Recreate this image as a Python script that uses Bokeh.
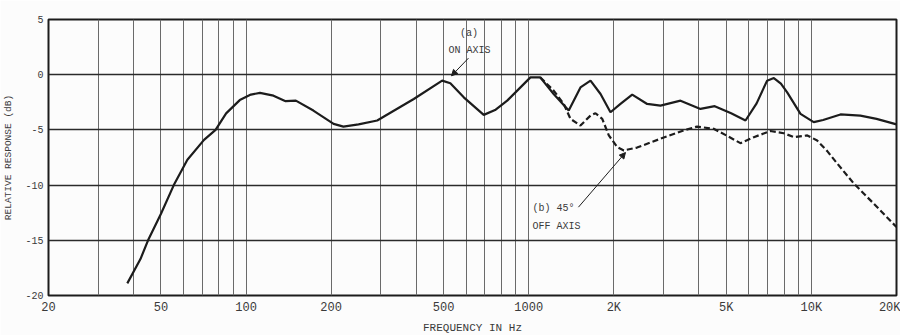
import numpy as np
from bokeh.plotting import figure
from bokeh.models import Range1d, FixedTicker, Label, Arrow, NormalHead, ColumnDataSource
from bokeh.embed import file_html
from bokeh.resources import INLINE

# (a) on-axis response
freq_on = [38, 42.3, 45, 50, 55.5, 62, 71, 78, 85, 95, 104, 112, 125, 138, 150, 173,
           204, 221, 250, 291, 392, 494, 528, 589, 693, 760, 839, 1014, 1098, 1225,
           1385, 1524, 1654, 1795, 1946, 2111, 2323, 2624, 2924, 3443, 4050, 4550,
           5200, 5846, 6400, 6971, 7364, 7800, 8209, 9150, 10190, 11000, 12670,
           14900, 17000, 20000]
resp_on = [-18.9, -16.7, -15.0, -12.6, -10.0, -7.7, -5.9, -5.0, -3.5, -2.3, -1.8, -1.65,
           -1.9, -2.4, -2.35, -3.25, -4.45, -4.7, -4.5, -4.15, -2.2, -0.54, -0.78,
           -2.05, -3.64, -3.2, -2.35, -0.24, -0.24, -1.75, -3.25, -1.15, -0.54, -1.75,
           -3.4, -2.65, -1.8, -2.65, -2.8, -2.35, -3.1, -2.85, -3.5, -4.15, -2.6,
           -0.54, -0.3, -0.8, -1.6, -3.55, -4.3, -4.1, -3.6, -3.7, -4.0, -4.5]

# (b) 45 degrees off-axis response
freq_off = [1098, 1225, 1330, 1405, 1524, 1654, 1722, 1820, 1920, 2057, 2170, 2416,
            2924, 3532, 3941, 4510, 5000, 5609, 6255, 7163, 7985, 8666, 9670, 10480,
            11360, 12300, 14130, 16600, 20000]
resp_off = [-0.24, -1.44, -2.65, -4.0, -4.6, -3.7, -3.49, -4.0, -5.5, -6.56, -6.86, -6.6,
            -5.8, -5.05, -4.7, -4.9, -5.5, -6.2, -5.66, -5.1, -5.3, -5.66, -5.5, -5.96,
            -6.9, -8.0, -9.86, -11.67, -13.8]

x_ticks = [20, 50, 100, 200, 500, 1000, 2000, 5000, 10000, 20000]
x_tick_labels = ["20", "50", "100", "200", "500", "1000", "2K", "5K", "10K", "20K"]
y_ticks = [-20, -15, -10, -5, 0, 5]
y_tick_labels = ["-20", "-15", "-10", "-5", "0", "5"]
y_grid = [-15, -10, -5, 0]

grid_freqs = [m * 10 ** d for d in range(1, 5) for m in range(1, 10)
              if 20 <= m * 10 ** d <= 20000]

FONT = "Liberation Mono"
INK = "#1c1c1c"
TXT = "#3a3a3a"

p = figure(frame_width=848, frame_height=276, x_axis_type="log",
           x_range=Range1d(20, 20000), y_range=Range1d(-20, 5),
           output_backend="svg", toolbar_location=None,
           min_border_left=40, min_border_right=4, min_border_top=19,
           min_border_bottom=10, background_fill_color="#fcfcfc",
           border_fill_color="#fcfcfc")

p.outline_line_color = INK
p.outline_line_width = 2

p.xgrid.ticker = FixedTicker(ticks=grid_freqs)
p.xgrid.grid_line_color = "#6a6a6a"
p.xgrid.grid_line_width = 1
p.ygrid.ticker = FixedTicker(ticks=y_grid)
p.ygrid.grid_line_color = "#2a2a2a"
p.ygrid.grid_line_width = 1.6

p.xaxis.ticker = FixedTicker(ticks=x_ticks)
p.xaxis.major_label_overrides = {t: l for t, l in zip(x_ticks, x_tick_labels)}
p.yaxis.ticker = FixedTicker(ticks=y_ticks)
p.yaxis.major_label_overrides = {t: l for t, l in zip(y_ticks, y_tick_labels)}

for ax in (p.xaxis, p.yaxis):
    ax.axis_line_color = None
    ax.major_tick_line_color = None
    ax.minor_tick_line_color = None
    ax.major_tick_out = 0
    ax.major_tick_in = 0
    ax.minor_tick_out = 0
    ax.minor_tick_in = 0
    ax.major_label_text_font = FONT
    ax.major_label_text_color = TXT
    ax.axis_label_text_font = FONT
    ax.axis_label_text_color = TXT
    ax.axis_label_text_font_style = "normal"

p.xaxis.major_label_text_font_size = "12px"
p.xaxis.major_label_standoff = 5
p.xaxis.axis_label = "FREQUENCY IN Hz"
p.xaxis.axis_label_text_font_size = "11px"
p.xaxis.axis_label_standoff = 4

p.yaxis.major_label_text_font_size = "10px"
p.yaxis.major_label_standoff = 5
p.yaxis.axis_label = "RELATIVE RESPONSE (dB)"
p.yaxis.axis_label_text_font_size = "9.5px"
p.yaxis.axis_label_standoff = 8

src_on = ColumnDataSource(dict(f=freq_on, r=resp_on))
src_off = ColumnDataSource(dict(f=freq_off, r=resp_off))
p.line("f", "r", source=src_off, line_color=INK, line_width=2.2, line_dash="6 3")
p.line("f", "r", source=src_on, line_color=INK, line_width=2.2)

# annotations
p.add_layout(Label(x=615, y=3.7, text="(a)", text_font=FONT, text_font_size="10px",
                   text_color=TXT, text_align="center", text_baseline="middle"))
p.add_layout(Label(x=617, y=2.2, text="ON AXIS", text_font=FONT, text_font_size="10px",
                   text_color=TXT, text_align="center", text_baseline="middle"))
p.add_layout(Arrow(x_start=612, y_start=1.5, x_end=533, y_end=-0.1,
                   line_color=INK, line_width=1,
                   end=NormalHead(size=6, fill_color=INK, line_color=INK)))

p.add_layout(Label(x=1031, y=-12.1, text="(b) 45°", text_font=FONT, text_font_size="10px",
                   text_color=TXT, text_align="left", text_baseline="middle"))
p.add_layout(Label(x=1031, y=-13.75, text="OFF AXIS", text_font=FONT, text_font_size="10px",
                   text_color=TXT, text_align="left", text_baseline="middle"))
p.add_layout(Arrow(x_start=1499, y_start=-12.0, x_end=2199, y_end=-7.05,
                   line_color=INK, line_width=1,
                   end=NormalHead(size=6, fill_color=INK, line_color=INK)))

open("out.html", "w").write(file_html(p, INLINE))
